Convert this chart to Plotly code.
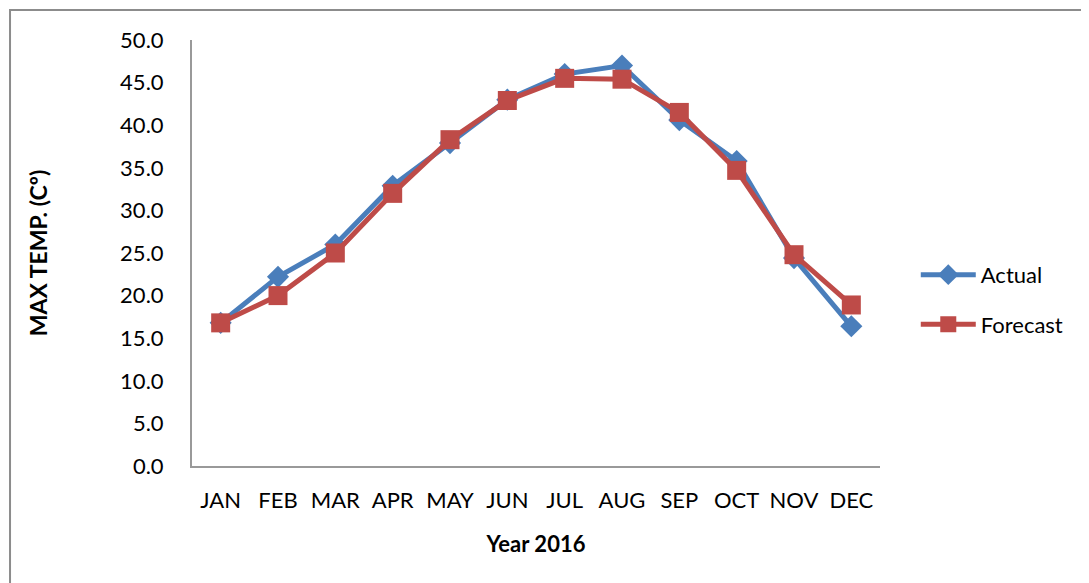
import plotly.graph_objects as go

months = ['JAN', 'FEB', 'MAR', 'APR', 'MAY', 'JUN', 'JUL', 'AUG', 'SEP', 'OCT', 'NOV', 'DEC']
actual = [16.8, 22.2, 26.0, 32.9, 37.9, 43.0, 46.0, 47.0, 40.6, 35.8, 24.4, 16.4]
forecast = [16.8, 20.0, 25.0, 32.0, 38.3, 42.9, 45.5, 45.4, 41.5, 34.7, 24.8, 18.9]
y_ticks = [0, 5, 10, 15, 20, 25, 30, 35, 40, 45, 50]

font_name = 'Lato, Open Sans, sans-serif'

fig = go.Figure()
fig.add_trace(go.Scatter(
    x=months,
    y=actual,
    name='Actual',
    legendgroup='a',
    mode='lines+markers',
    line=dict(color='#4a7ebb', width=5),
    marker=dict(symbol='diamond', size=17, color='#4a7ebb'),
))
fig.add_trace(go.Scatter(
    x=months,
    y=forecast,
    name='Forecast',
    legendgroup='f',
    mode='lines+markers',
    line=dict(color='#be4b48', width=5),
    marker=dict(symbol='square', size=19, color='#be4b48'),
))

# outer chart border (only top and left edges fall inside the picture)
fig.add_shape(type='rect', xref='paper', yref='paper',
              x0=-0.2645, y0=-0.6, x1=1.32, y1=1.0704,
              line=dict(color='#8c8c8c', width=2), layer='below')

# page body has an 8px margin, so margins are shifted by 8
fig.update_layout(
    width=1089,
    height=583,
    margin=dict(l=184, r=217, t=32, b=125),
    paper_bgcolor='white',
    plot_bgcolor='white',
    font=dict(family=font_name, size=22, color='black'),
    showlegend=True,
    legend=dict(
        x=1.052, y=0.39, xanchor='left', yanchor='middle',
        font=dict(size=22),
        traceorder='grouped',
        itemwidth=55,
        tracegroupgap=18,
    ),
    xaxis=dict(
        title=dict(text='<b>Year 2016</b>', font=dict(size=22), standoff=24),
        showgrid=False,
        zeroline=False,
        showline=True,
        linecolor='#999999',
        linewidth=2,
        ticks='',
        ticklabelstandoff=14,
        range=[-0.5, 11.5],
    ),
    yaxis=dict(
        title=dict(text='<b>MAX TEMP. (Cº)</b>', font=dict(size=23), standoff=66),
        range=[0, 50],
        tickvals=y_ticks,
        tickformat='.1f',
        showgrid=False,
        zeroline=False,
        showline=True,
        linecolor='#999999',
        linewidth=2,
        ticks='',
        ticklabelstandoff=22,
    ),
)

fig.write_html('out.html')
